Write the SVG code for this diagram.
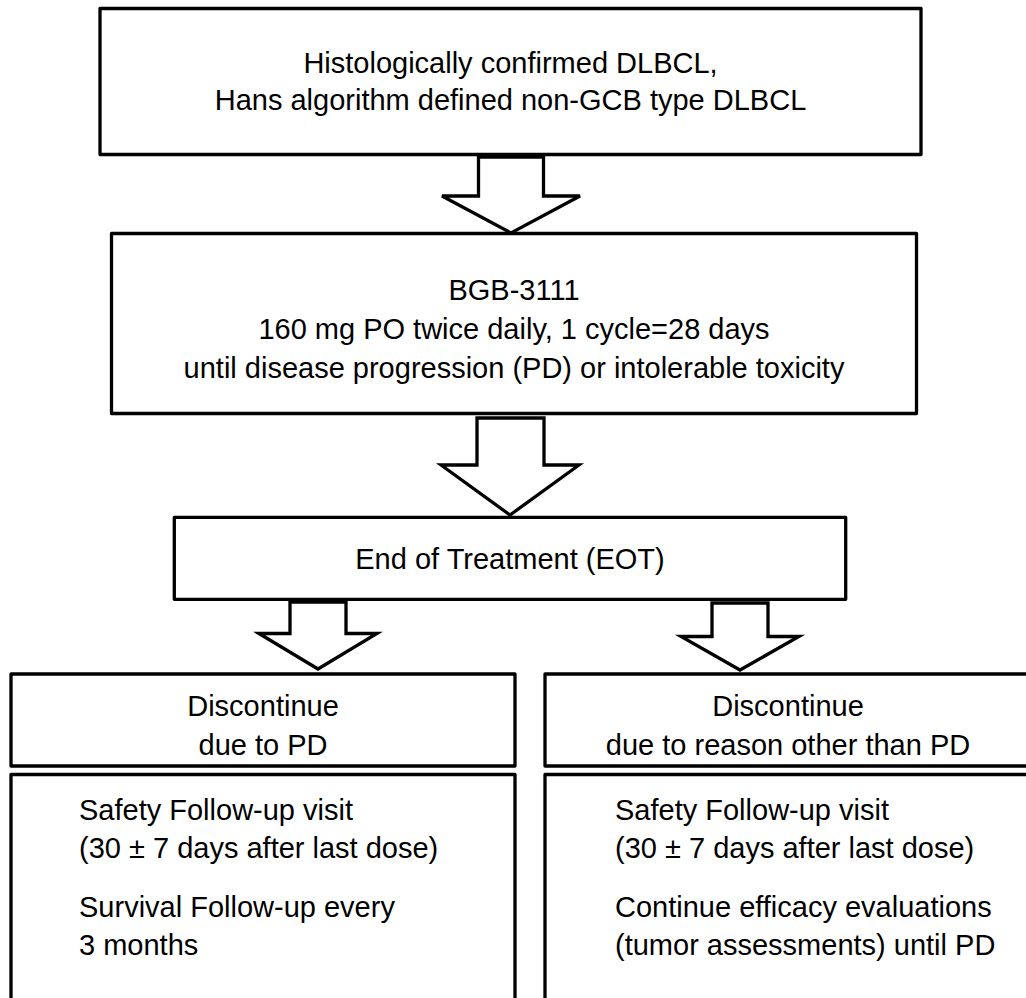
<svg xmlns="http://www.w3.org/2000/svg" width="1026" height="998" viewBox="0 0 1026 998">
<style>
.box{fill:#ffffff;stroke:#000000;stroke-width:3.3;stroke-linejoin:round}
.arr{fill:#ffffff;stroke:#000000;stroke-width:3.3;stroke-linejoin:miter}
text{font-family:"Liberation Sans",Arial,sans-serif;font-size:29px;fill:#000000}
.c{text-anchor:middle}
</style>
<rect width="1026" height="998" fill="#ffffff"/>
<g id="node-dlbcl">
<rect class="box" x="100" y="8.5" width="821" height="146"/>
<text class="c" x="510.5" y="73">Histologically confirmed DLBCL,</text>
<text class="c" x="510.5" y="110">Hans algorithm defined non-GCB type DLBCL</text>
</g>
<g id="node-bgb">
<rect class="box" x="111.5" y="233.5" width="805" height="180"/>
<text class="c" x="514" y="300">BGB-3111</text>
<text class="c" x="514" y="339">160 mg PO twice daily, 1 cycle=28 days</text>
<text class="c" x="514" y="378">until disease progression (PD) or intolerable toxicity</text>
</g>
<g id="node-eot">
<rect class="box" x="174.3" y="517.3" width="671.4" height="82"/>
<text class="c" x="510" y="569">End of Treatment (EOT)</text>
</g>
<g id="node-disc-pd">
<rect class="box" x="11" y="674" width="504" height="92"/>
<text class="c" x="263" y="716">Discontinue</text>
<text class="c" x="263" y="755">due to PD</text>
</g>
<g id="node-disc-other">
<rect class="box" x="545" y="674" width="490" height="92"/>
<text class="c" x="788" y="716">Discontinue</text>
<text class="c" x="788" y="755">due to reason other than PD</text>
</g>
<g id="node-followup-pd">
<rect class="box" x="11" y="774.5" width="504" height="240" stroke-width="3.8"/>
<text x="79" y="820">Safety Follow-up visit</text>
<text x="79" y="858">(30 ± 7 days after last dose)</text>
<text x="79" y="917">Survival Follow-up every</text>
<text x="79" y="955">3 months</text>
</g>
<g id="node-followup-other">
<rect class="box" x="545" y="774.5" width="490" height="240" stroke-width="3.8"/>
<text x="615" y="820">Safety Follow-up visit</text>
<text x="615" y="858">(30 ± 7 days after last dose)</text>
<text x="615" y="917">Continue efficacy evaluations</text>
<text x="615" y="955">(tumor assessments) until PD</text>
</g>
<g id="connectors">
<polygon class="arr" points="478.5,157 543.5,157 543.5,196 580,196 511,233 442,196 478.5,196"/>
<polygon class="arr" points="477,418 544,418 544,465 579,465 510,515 441,465 477,465"/>
<polygon class="arr" points="290,602 346,602 346,633.5 377,633.5 318,669 259,633.5 290,633.5"/>
<polygon class="arr" points="712,603 768,603 768,636.5 799,636.5 740,670 681,636.5 712,636.5"/>
</g>
</svg>
